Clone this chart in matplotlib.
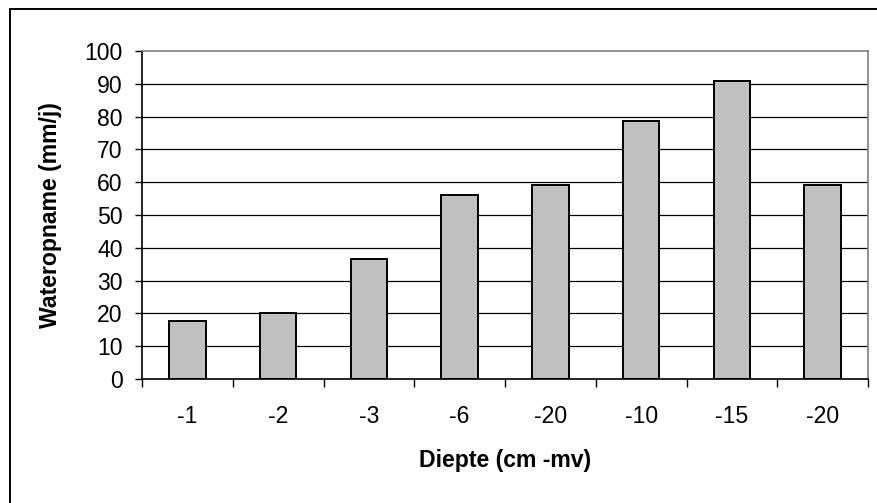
#!/usr/bin/env python3

import matplotlib
matplotlib.use("Agg")
import matplotlib.pyplot as plt
from matplotlib.patches import Rectangle
import numpy as np


#####
##### Data
#####

CATEGORIES = ["-1", "-2", "-3", "-6", "-20", "-10", "-15", "-20"]
WATEROPNAME = [17.7, 20.0, 36.6, 56.1, 59.0, 78.7, 90.9, 59.0]
Y_TICKS = [0, 10, 20, 30, 40, 50, 60, 70, 80, 90, 100]

XLABEL = "Diepte (cm -mv)"
YLABEL = "Wateropname (mm/j)"

W, H = 877, 503
DPI = 100

FONT_SIZE_TICK = 16.6
FONT_SIZE_LABEL = 16.6


#####
##### Plot
#####

plt.rcParams["font.family"] = ["Liberation Sans", "DejaVu Sans"]

fig = plt.figure(figsize=(W / DPI, H / DPI), dpi=DPI)
ax = fig.add_axes([142 / W, 1 - 379 / H, (868 - 142) / W, (379 - 51) / H])

x = np.arange(len(CATEGORIES))
ax.bar(x, WATEROPNAME, width=0.4, color="#C0C0C0", edgecolor="black",
       linewidth=1.4, zorder=3)

### Axes limits and ticks
ax.set_xlim(-0.5, len(CATEGORIES) - 0.5)
ax.set_ylim(0, 100)
ax.set_yticks(Y_TICKS)
ax.set_yticklabels([str(t) for t in Y_TICKS], fontsize=FONT_SIZE_TICK)
ax.set_xticks(x)
ax.set_xticklabels(CATEGORIES, fontsize=FONT_SIZE_TICK)
ax.set_xticks(np.arange(len(CATEGORIES) + 1) - 0.5, minor=True)
ax.tick_params(axis="x", which="major", length=0, pad=19)
ax.tick_params(axis="x", which="minor", length=5.5, width=1, color="black")
ax.tick_params(axis="y", length=5, width=1, pad=9, color="black")

### Grid (horizontal only)
for t in Y_TICKS[1:-1]:
    ax.axhline(t, color="black", linewidth=0.9, zorder=1)

### Spines
ax.spines["left"].set_color("black")
ax.spines["bottom"].set_color("black")
ax.spines["top"].set_color("#808080")
ax.spines["right"].set_color("#808080")
for s in ax.spines.values():
    s.set_linewidth(1.2)
ax.spines["bottom"].set_zorder(4)

### Labels
ax.set_xlabel(XLABEL, fontsize=FONT_SIZE_LABEL, fontweight="bold", labelpad=15)
fig.text(51 / W, 1 - 215 / H, YLABEL, fontsize=FONT_SIZE_LABEL,
         fontweight="bold", rotation=90, ha="center", va="center")

### Outer chart border (runs off the right and bottom edge)
fig.patches.append(Rectangle((9.5 / W, -0.1), 1.2, 1 - 9 / H + 0.1,
                             transform=fig.transFigure, fill=False,
                             edgecolor="black", linewidth=1.4))

fig.savefig("out.png", dpi=DPI)
